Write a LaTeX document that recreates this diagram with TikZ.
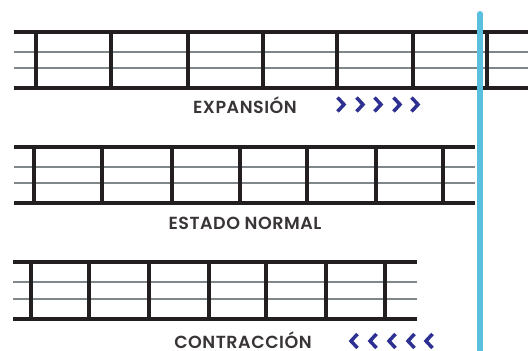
\documentclass[tikz,border=0pt]{standalone}
\usepackage{fontspec}
\setmainfont{Poppins}[UprightFont=* Medium, BoldFont=* SemiBold, LetterSpace=3]
\usepackage{tikz}
\usetikzlibrary{positioning}

\definecolor{railblack}{HTML}{231F20}
\definecolor{railgray}{HTML}{7F878B}
\definecolor{limitblue}{HTML}{5BC0E0}
\definecolor{arrownavy}{HTML}{2E3192}

\begin{document}
\begin{tikzpicture}[x=1pt, y=-1pt,
    rail/.style={railblack, line width=4pt},
    tie/.style={railblack, line width=4pt},
    wire/.style={railgray, line width=2pt},
    chev/.style={arrownavy, line width=3.5pt, miter limit=10},
    lbl/.style={font=\fontsize{17.5}{19}\selectfont\bfseries, text=railblack!90, inner sep=0pt, anchor=base}]

\useasboundingbox (0,0) rectangle (528,351);

% Top: expansion
\draw[wire] (14,52) -- (528,52);
\draw[wire] (14,68) -- (528,68);
\foreach \x in {36,111,188,263,337,413,487}
    \draw[tie] (\x,32) -- (\x,88);
\draw[rail] (14,32) -- (528,32);
\draw[rail] (14,88) -- (528,88);
\node[lbl] (expansion) at (245,113) {EXPANSIÓN};
\foreach \x in {342,361,379,398,416}
    \draw[chev] (\x-4.5,97.5) -- (\x+2,104.5) -- (\x-4.5,111.5);

% Middle: normal state
\draw[wire] (14,167) -- (475,167);
\draw[wire] (14,183) -- (475,183);
\foreach \x in {34,102,172,240,307,376,443}
    \draw[tie] (\x,147) -- (\x,203);
\draw[rail] (14,147) -- (475,147);
\draw[rail] (14,203) -- (475,203);
\node[lbl] (normal) at (245,229) {ESTADO NORMAL};

% Bottom: contraction
\draw[wire] (13,282) -- (417,282);
\draw[wire] (13,299) -- (417,299);
\foreach \x in {31,89,149,209,266,326,385}
    \draw[tie] (\x,262) -- (\x,319);
\draw[rail] (13,262) -- (417,262);
\draw[rail] (13,319) -- (417,319);
\node[lbl] (contraction) at (243,348.5) {CONTRACCIÓN};
\foreach \x in {353,372,391,410,428}
    \draw[chev] (\x+4.5,334) -- (\x-2,341) -- (\x+4.5,348);

% Limit line
\draw[limitblue, line width=6pt, line cap=round] (480,14) -- (480,356);

\end{tikzpicture}
\end{document}
